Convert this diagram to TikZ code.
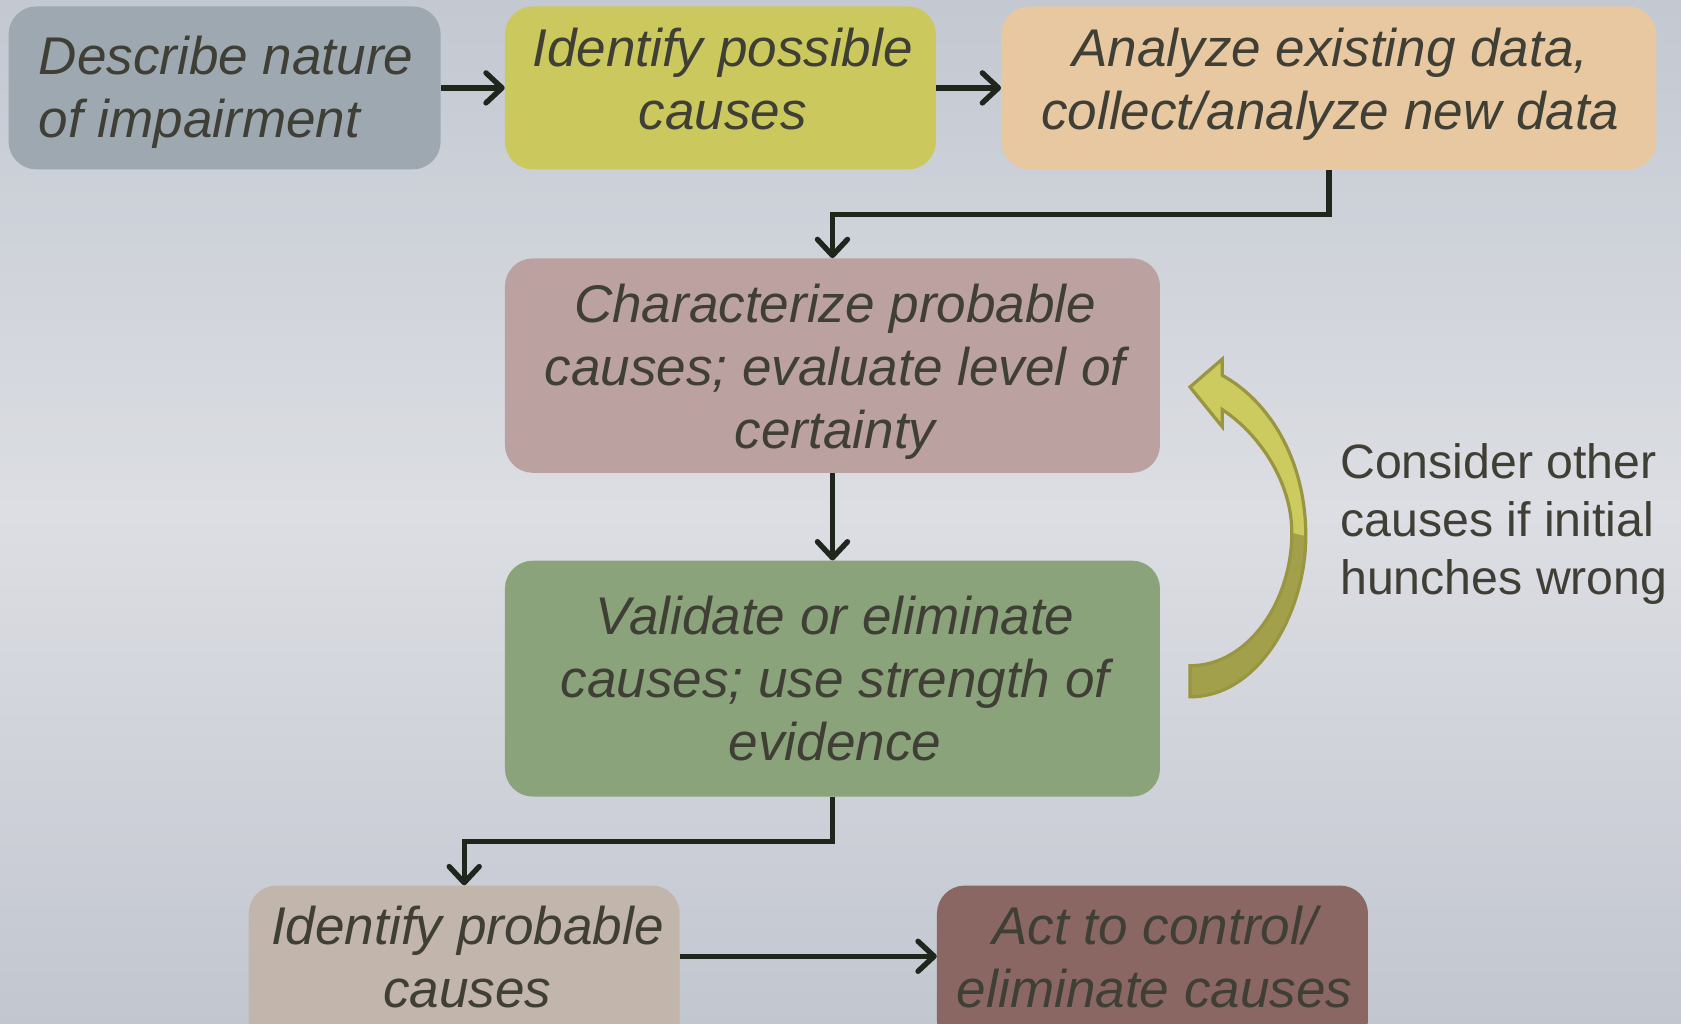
\documentclass[tikz,border=0pt]{standalone}
\usepackage{fontspec}
\setmainfont{Liberation Sans}
\usetikzlibrary{arrows.meta,calc}
\definecolor{bgtop}{HTML}{C3C8D1}
\definecolor{bgmid}{HTML}{DCDEE3}
\definecolor{bgbot}{HTML}{C2C6CF}
\definecolor{cA}{HTML}{9EA8B1}
\definecolor{cB}{HTML}{CBC95E}
\definecolor{cC}{HTML}{E8C8A0}
\definecolor{cD}{HTML}{BBA1A0}
\definecolor{cE}{HTML}{8BA37B}
\definecolor{cF}{HTML}{C2B5AB}
\definecolor{cG}{HTML}{8B6764}
\definecolor{txtc}{HTML}{3F3F36}
\definecolor{linec}{HTML}{1F261C}
\definecolor{arlight}{HTML}{CCCB5F}
\definecolor{ardark}{HTML}{A3A04C}
\definecolor{arline}{HTML}{999541}
\begin{document}
\begin{tikzpicture}[x=1pt,y=-1pt,
  box/.style={rounded corners=26pt, inner sep=0pt, draw=none},
  txt/.style={font=\fontsize{49.5}{59}\selectfont\itshape, text=txtc, align=center, inner sep=0pt},
  note/.style={font=\fontsize{45}{54}\selectfont, text=txtc, align=left, inner sep=0pt},
  arr/.style={draw=linec, line width=5pt, -{Straight Barb[length=15pt,width=28pt,round]}}]
\useasboundingbox (0,0) rectangle (1568,955);
\clip (0,0) rectangle (1568,955);
\shade[top color=bgtop, bottom color=bgbot, middle color=bgmid] (0,0) rectangle (1568,955);

% boxes
\node[box, fill=cA, minimum width=403pt, minimum height=152pt] (b1) at (209.5,82) {};
\node[box, fill=cB, minimum width=402pt, minimum height=152pt] (b2) at (672,82) {};
\node[box, fill=cC, minimum width=611pt, minimum height=152pt] (b3) at (1239.5,82) {};
\node[box, fill=cD, minimum width=611pt, minimum height=200pt] (b4) at (776.5,341) {};
\node[box, fill=cE, minimum width=611pt, minimum height=220pt] (b5) at (776.5,633) {};
\node[box, fill=cF, minimum width=402pt, minimum height=152pt] (b6) at (433,902) {};
\node[box, fill=cG, minimum width=402pt, minimum height=152pt] (b7) at (1075,902) {};

% texts
\node[txt, align=left, anchor=west] (t1) at (36,86) {Describe nature\\of impairment};
\node[txt] (t2) at (674,74) {Identify possible\\causes};
\node[txt] (t3) at (1241,78.5) {Analyze existing data,\\collect/analyze new data};
\node[txt] (t4) at (779,347) {Characterize probable\\causes; evaluate level of\\certainty};
\node[txt] (t5) at (779,633) {Validate or eliminate\\causes; use strength of\\evidence};
\node[txt] (t6) at (436,893) {Identify probable\\causes};
\node[txt] (t7) at (1077,893) {Act to control/\\eliminate causes};
\node[note, anchor=west] (t8) at (1250,489) {Consider other\\causes if initial\\hunches wrong};

% connectors
\draw[arr] (b1) -- (b2);
\draw[arr] (b2) -- (b3);
\draw[arr] (b3.south) -- ++(0,42) -| (b4.north);
\draw[arr] (b4) -- (b5);
\draw[arr] (b5.south) -- ++(0,42) -| (b6.north);
\draw[arr] ([yshift=10pt]b6.east) -- ([yshift=10pt]b7.west);

% curved arrow
\fill[ardark] (1110,650) .. controls (1175,650) and (1218,570) .. (1218,500)
  .. controls (1218,430) and (1185,375) .. (1140,350) -- (1140,335) -- (1110,361)
  -- (1140,398) -- (1140,382) .. controls (1175,405) and (1205,450) .. (1205,497)
  .. controls (1205,560) and (1165,621) .. (1110,621) -- cycle;
\fill[arlight] (1218,500) .. controls (1218,430) and (1185,375) .. (1140,350)
  -- (1140,335) -- (1110,361) -- (1140,398) -- (1140,382)
  .. controls (1175,405) and (1205,450) .. (1205,497) -- cycle;
\draw[arline, line width=3pt] (1110,650) .. controls (1175,650) and (1218,570) .. (1218,500)
  .. controls (1218,430) and (1185,375) .. (1140,350) -- (1140,335) -- (1110,361)
  -- (1140,398) -- (1140,382) .. controls (1175,405) and (1205,450) .. (1205,497)
  .. controls (1205,560) and (1165,621) .. (1110,621) -- cycle;
\end{tikzpicture}
\end{document}
